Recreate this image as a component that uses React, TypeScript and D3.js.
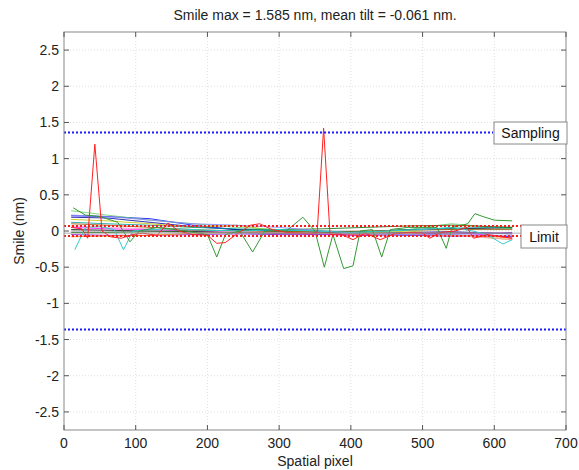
import React from "react";
import * as d3 from "d3";

const W = 579;
const H = 470;

const titleText = "Smile max = 1.585 nm, mean tilt = -0.061 nm.";
const xLabel = "Spatial pixel";
const yLabel = "Smile (nm)";
const xTicks = [0, 100, 200, 300, 400, 500, 600, 700];
const yTicks = [2.5, 2, 1.5, 1, 0.5, 0, -0.5, -1, -1.5, -2, -2.5];
const samplingLevel = 1.36;
const limitLevel = 0.07;
const meanLevel = -0.03;

// background (smooth) series sampled coarsely
const coarseX = [10, 60, 120, 180, 240, 300, 360, 420, 480, 540, 600, 625];
const bgSeries: { color: string; values: number[] }[] = [
  { color: "#0000ff", values: [0.21, 0.2, 0.17, 0.08, 0.02, 0.0, -0.03, -0.05, -0.06, -0.07, -0.07, -0.08] },
  { color: "#000099", values: [0.19, 0.18, 0.12, 0.06, 0.02, -0.01, -0.02, -0.03, -0.02, -0.01, -0.03, -0.04] },
  { color: "#bfbf00", values: [0.16, 0.14, 0.1, 0.05, 0.08, 0.0, -0.02, -0.03, 0.0, -0.05, -0.1, -0.12] },
  { color: "#ff00ff", values: [0.05, 0.03, 0.02, 0.0, -0.02, -0.03, -0.04, -0.06, -0.02, -0.02, -0.06, -0.1] },
  { color: "#000000", values: [0.02, 0.01, 0.0, -0.01, -0.02, -0.03, -0.02, -0.01, 0.02, 0.03, 0.04, 0.04] },
  { color: "#66cc66", values: [0.28, 0.22, 0.15, 0.1, 0.05, 0.02, 0.0, -0.02, 0.02, 0.1, 0.05, 0.03] },
  { color: "#009999", values: [0.12, 0.1, 0.08, 0.05, 0.03, 0.01, 0.0, -0.01, 0.02, 0.04, 0.05, 0.05] },
  { color: "#8000cc", values: [-0.05, -0.06, -0.06, -0.05, -0.04, -0.05, -0.05, -0.06, -0.04, -0.03, -0.03, -0.02] },
  { color: "#ff8000", values: [-0.08, -0.07, -0.06, -0.03, -0.02, -0.02, -0.03, -0.05, -0.04, -0.06, -0.08, -0.1] },
  { color: "#994d00", values: [0.1, 0.08, 0.05, 0.02, 0.0, -0.01, -0.01, 0.0, 0.01, 0.02, 0.02, 0.02] },
  { color: "#ff99cc", values: [0.07, 0.05, 0.03, 0.01, -0.01, -0.02, -0.03, -0.04, -0.05, -0.06, -0.1, -0.12] },
  { color: "#006600", values: [-0.02, -0.02, -0.01, 0.0, 0.01, 0.02, 0.03, 0.05, 0.07, 0.08, 0.06, 0.05] },
  { color: "#8080ff", values: [0.22, 0.2, 0.15, 0.1, 0.08, 0.05, 0.0, -0.04, -0.05, -0.05, -0.06, -0.06] },
  { color: "#808080", values: [0.0, 0.0, -0.01, -0.02, -0.02, -0.03, -0.03, -0.03, -0.02, -0.02, -0.03, -0.03] },
];

// notable series
const redX = [10, 25, 33, 43, 53, 65, 80, 95, 110, 130, 145, 160, 180, 200, 213, 225, 240, 260, 273, 290, 310, 330, 345, 353, 362, 371, 385, 403, 420, 441, 460, 480, 500, 510, 525, 545, 562, 571, 590, 610, 625];
const redY = [0.05, 0.03, -0.1, 1.2, 0.0, -0.08, -0.1, -0.05, -0.03, -0.06, 0.11, 0.0, -0.05, -0.06, -0.17, -0.16, -0.05, 0.08, 0.1, 0.02, -0.02, -0.03, -0.04, -0.02, 1.42, -0.05, -0.04, -0.12, -0.03, -0.12, -0.04, -0.02, -0.03, -0.1, -0.02, 0.0, 0.05, -0.1, -0.05, -0.08, -0.1];

const greenX = [13, 30, 50, 75, 92, 105, 130, 170, 200, 213, 225, 245, 263, 280, 310, 333, 350, 363, 375, 390, 403, 413, 430, 443, 455, 480, 506, 520, 533, 541, 563, 573, 584, 600, 625];
const greenY = [0.32, 0.22, 0.2, 0.12, -0.15, 0.0, 0.05, 0.0, -0.05, -0.36, -0.05, 0.0, -0.29, 0.0, 0.0, 0.19, 0.0, -0.5, -0.05, -0.52, -0.48, 0.0, 0.02, -0.36, 0.02, 0.05, 0.05, 0.05, -0.24, 0.05, 0.1, 0.24, 0.2, 0.15, 0.14];

const cyanX = [15, 30, 50, 70, 83, 96, 120, 160, 200, 250, 300, 350, 400, 450, 500, 540, 570, 590, 612, 625];
const cyanY = [-0.26, 0.05, 0.06, 0.02, -0.26, 0.0, 0.02, 0.03, 0.01, 0.0, 0.02, 0.0, -0.02, 0.0, 0.02, 0.05, 0.0, -0.05, -0.18, -0.12];

const M = { left: 64, right: 579 - 566, top: 32, bottom: 470 - 430 };

export default function App() {
  const x = d3.scaleLinear().domain([0, 700]).range([M.left, W - M.right]);
  const y = d3.scaleLinear().domain([-2.75, 2.75]).range([H - M.bottom, M.top]);
  const line = d3
    .line<[number, number]>()
    .x((d) => x(d[0]))
    .y((d) => y(d[1]));
  const x0 = x(0);
  const x1 = x(700);
  const y0 = y(2.75);
  const y1 = y(-2.75);
  const font = "Liberation Sans, Arial, sans-serif";
  const zip = (a: number[], b: number[]) => a.map((v, i) => [v, b[i]] as [number, number]);

  return (
    <div style={{ position: "absolute", left: 0, top: 0 }}>
      <svg width={W} height={H} style={{ display: "block", background: "#fff" }}>
        <rect x={0} y={0} width={W} height={H} fill="#fff" />
        {/* grid */}
        {xTicks.slice(1, -1).map((t) => (
          <line key={"gx" + t} x1={x(t)} x2={x(t)} y1={y0} y2={y1} stroke="#d0d0d0" strokeWidth={0.7} strokeDasharray="1,2" />
        ))}
        {yTicks.map((t) => (
          <line key={"gy" + t} x1={x0} x2={x1} y1={y(t)} y2={y(t)} stroke="#d0d0d0" strokeWidth={0.7} strokeDasharray="1,2" />
        ))}
        {/* data */}
        {bgSeries.map((s, i) => (
          <path key={"bg" + i} d={line(zip(coarseX, s.values)) || ""} fill="none" stroke={s.color} strokeWidth={1} opacity={0.8} />
        ))}
        <path d={line(zip(cyanX, cyanY)) || ""} fill="none" stroke="#33cccc" strokeWidth={1} />
        <path d={line(zip(greenX, greenY)) || ""} fill="none" stroke="#339933" strokeWidth={1} />
        <path d={line(zip(redX, redY)) || ""} fill="none" stroke="#ff2020" strokeWidth={1} />
        {/* mean line */}
        <line x1={x0} x2={521} y1={y(meanLevel)} y2={y(meanLevel)} stroke="#999" strokeWidth={0.8} />
        {/* sampling lines */}
        {[samplingLevel, -samplingLevel].map((v) => (
          <line key={"s" + v} x1={x0} x2={v > 0 ? 493 : x1} y1={y(v)} y2={y(v)} stroke="#1a1aff" strokeWidth={2} strokeDasharray="2,2" />
        ))}
        {/* limit lines */}
        {[limitLevel, -limitLevel].map((v) => (
          <line key={"l" + v} x1={x0} x2={521} y1={y(v)} y2={y(v)} stroke="#ff1a1a" strokeWidth={2} strokeDasharray="2,2" />
        ))}
        {/* frame */}
        <rect x={x0} y={y0} width={x1 - x0} height={y1 - y0} fill="none" stroke="#888" strokeWidth={1} />
        {/* ticks */}
        {xTicks.map((t) => (
          <g key={"xt" + t}>
            <line x1={x(t)} x2={x(t)} y1={y1} y2={y1 - 5} stroke="#555" />
            <line x1={x(t)} x2={x(t)} y1={y0} y2={y0 + 5} stroke="#555" />
            <text x={x(t)} y={y1 + 18} textAnchor="middle" fontFamily={font} fontSize={14} fill="#222">{t}</text>
          </g>
        ))}
        {yTicks.map((t) => (
          <g key={"yt" + t}>
            <line x1={x0} x2={x0 + 5} y1={y(t)} y2={y(t)} stroke="#555" />
            <line x1={x1} x2={x1 - 5} y1={y(t)} y2={y(t)} stroke="#555" />
            <text x={x0 - 5} y={y(t) + 5} textAnchor="end" fontFamily={font} fontSize={14} fill="#222">{t}</text>
          </g>
        ))}
        {/* legend boxes */}
        <rect x={494} y={122} width={73} height={22} fill="#fff" stroke="#888" strokeWidth={1} />
        <text x={530.5} y={138} textAnchor="middle" fontFamily={font} fontSize={14} fill="#111">Sampling</text>
        <rect x={521} y={225} width={46} height={23} fill="#fff" stroke="#888" strokeWidth={1} />
        <text x={544} y={241.5} textAnchor="middle" fontFamily={font} fontSize={14} fill="#111">Limit</text>
        {/* labels */}
        <text x={(x0 + x1) / 2} y={20} textAnchor="middle" fontFamily={font} fontSize={14} fill="#222">{titleText}</text>
        <text x={(x0 + x1) / 2} y={466} textAnchor="middle" fontFamily={font} fontSize={14} fill="#222">{xLabel}</text>
        <text transform={`translate(24, ${(y0 + y1) / 2}) rotate(-90)`} textAnchor="middle" fontFamily={font} fontSize={14} fill="#222">{yLabel}</text>
      </svg>
    </div>
  );
}
